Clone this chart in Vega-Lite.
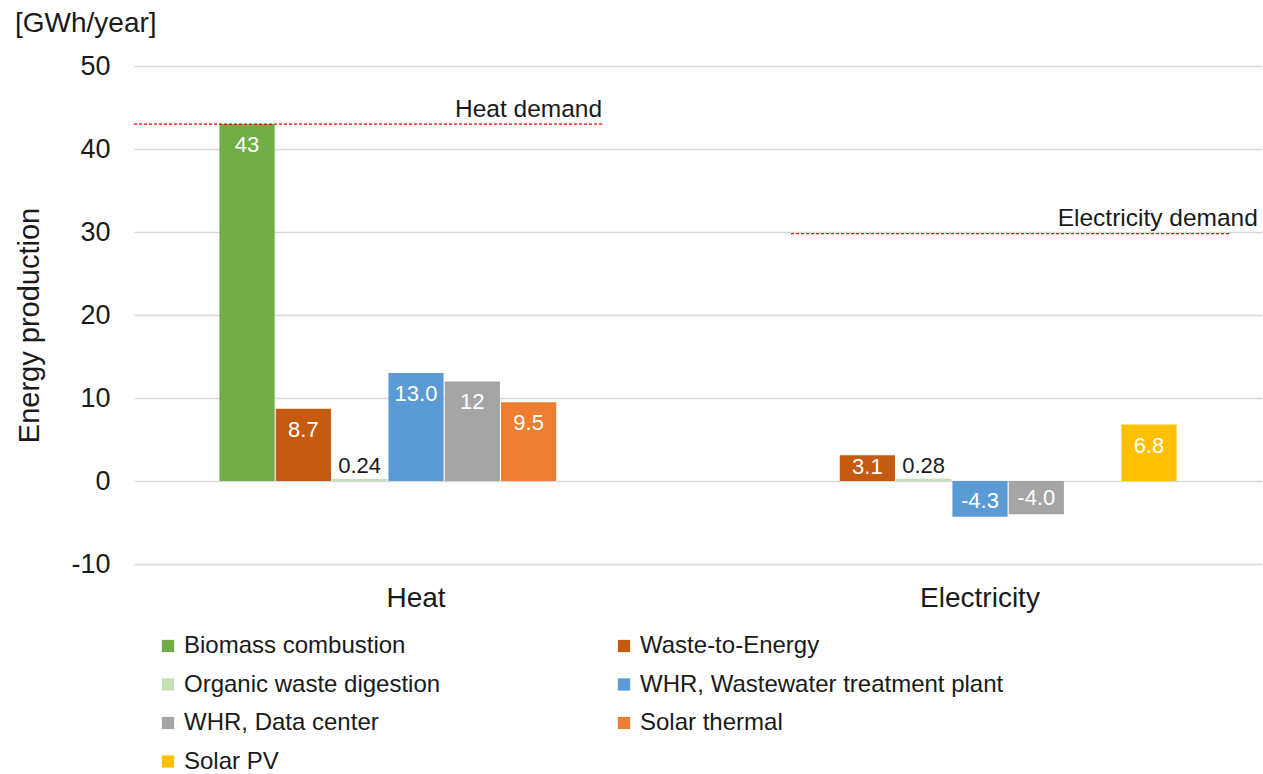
{
  "$schema": "https://vega.github.io/schema/vega-lite/v6.json",
  "width": 1128,
  "height": 498,
  "autosize": "none",
  "padding": {"left": 134, "top": 66, "right": 1, "bottom": 210},
  "background": "white",
  "config": {"font": "Liberation Sans", "view": {"stroke": null}},
  "title": {"text": "[GWh/year]", "anchor": "start", "frame": "group", "fontSize": 28, "fontWeight": "normal", "color": "#1a1a1a", "dx": -119, "offset": 14},
  "datasets": {
    "prod": [
      {"type": "Heat", "source": "Biomass combustion", "value": 43, "label": "43"},
      {"type": "Heat", "source": "Waste-to-Energy", "value": 8.7, "label": "8.7"},
      {"type": "Heat", "source": "Organic waste digestion", "value": 0.24, "label": "0.24"},
      {"type": "Heat", "source": "WHR, Wastewater treatment plant", "value": 13.0, "label": "13.0"},
      {"type": "Heat", "source": "WHR, Data center", "value": 12, "label": "12"},
      {"type": "Heat", "source": "Solar thermal", "value": 9.5, "label": "9.5"},
      {"type": "Electricity", "source": "Waste-to-Energy", "value": 3.1, "label": "3.1"},
      {"type": "Electricity", "source": "Organic waste digestion", "value": 0.28, "label": "0.28"},
      {"type": "Electricity", "source": "WHR, Wastewater treatment plant", "value": -4.3, "label": "-4.3"},
      {"type": "Electricity", "source": "WHR, Data center", "value": -4.0, "label": "-4.0"},
      {"type": "Electricity", "source": "Solar PV", "value": 6.8, "label": "6.8"}
    ],
    "demand": [
      {"name": "Heat demand", "value": 43, "x0": 0, "x1": 0.83},
      {"name": "Electricity demand", "value": 29.8, "x0": 1.165, "x1": 1.943}
    ]
  },
  "encoding": {
    "y": {
      "field": "value", "type": "quantitative",
      "scale": {"domain": [-10, 50], "nice": false, "zero": false},
      "axis": {
        "title": "Energy production", "titleFontSize": 29, "titleFontWeight": "normal", "titleColor": "#1a1a1a", "titlePadding": 26, "titleY": 259,
        "labelFontSize": 27, "labelColor": "#1a1a1a", "labelPadding": 24, "labelExpr": "toString(datum.value)",
        "values": [-10, 0, 10, 20, 30, 40, 50],
        "grid": true, "gridColor": "#d9d9d9", "gridWidth": 1.3,
        "domain": false, "ticks": false
      }
    }
  },
  "layer": [
    {
      "data": {"name": "prod"},
      "encoding": {
        "x": {
          "field": "type", "type": "nominal", "sort": ["Heat", "Electricity"],
          "scale": {"paddingInner": 0.303, "paddingOuter": 0.1515},
          "axis": {"title": null, "labelFontSize": 28, "labelColor": "#1a1a1a", "labelPadding": 20, "labelAngle": 0, "domain": false, "ticks": false, "grid": false}
        },
        "xOffset": {
          "field": "source", "type": "nominal",
          "scale": {
            "domain": ["Biomass combustion", "Waste-to-Energy", "Organic waste digestion", "WHR, Wastewater treatment plant", "WHR, Data center", "Solar thermal", "Solar PV"],
            "paddingOuter": 0, "paddingInner": 0.02
          }
        }
      },
      "layer": [
        {
          "mark": {"type": "bar"},
          "encoding": {
            "color": {
              "field": "source", "type": "nominal",
              "scale": {
                "domain": ["Biomass combustion", "Waste-to-Energy", "Organic waste digestion", "WHR, Wastewater treatment plant", "WHR, Data center", "Solar thermal", "Solar PV"],
                "range": ["#70ad47", "#c55a11", "#c5e0b4", "#5b9bd5", "#a5a5a5", "#ed7d31", "#ffc000"]
              },
              "legend": {
                "title": null, "orient": "none", "direction": "horizontal", "legendX": 22, "legendY": 568, "columns": 2, "columnPadding": 171, "rowPadding": 14.5,
                "symbolType": "square", "symbolSize": 150, "symbolStrokeWidth": 0, "labelFontSize": 24, "labelColor": "#1a1a1a", "labelOffset": 4, "labelLimit": 500
              }
            }
          }
        },
        {
          "transform": [{"filter": "datum.value >= 5"}],
          "mark": {"type": "text", "baseline": "middle", "dy": 21, "color": "white", "fontSize": 22},
          "encoding": {"text": {"field": "label"}}
        },
        {
          "transform": [{"filter": "datum.value >= 1 && datum.value < 5"}],
          "mark": {"type": "text", "baseline": "middle", "dy": 12, "color": "white", "fontSize": 22},
          "encoding": {"text": {"field": "label"}}
        },
        {
          "transform": [{"filter": "datum.value > 0 && datum.value < 1"}],
          "mark": {"type": "text", "baseline": "middle", "dy": -13, "color": "#1a1a1a", "fontSize": 22},
          "encoding": {"text": {"field": "label"}}
        },
        {
          "transform": [{"filter": "datum.value < 0"}],
          "mark": {"type": "text", "baseline": "middle", "dy": -16, "color": "white", "fontSize": 22},
          "encoding": {"text": {"field": "label"}}
        }
      ]
    },
    {
      "data": {"name": "demand"},
      "encoding": {
        "x": {"field": "x0", "type": "quantitative", "scale": {"domain": [0, 2], "nice": false, "zero": false}, "axis": null}
      },
      "layer": [
        {
          "mark": {"type": "rule", "color": "#ff0000", "strokeDash": [3, 2], "strokeWidth": 1.2},
          "encoding": {"x2": {"field": "x1"}}
        },
        {
          "transform": [{"filter": "datum.name == 'Heat demand'"}],
          "mark": {"type": "text", "align": "right", "baseline": "alphabetic", "dy": -7, "fontSize": 24.5, "color": "#1a1a1a"},
          "encoding": {"x": {"field": "x1", "type": "quantitative"}, "text": {"field": "name"}}
        },
        {
          "transform": [{"filter": "datum.name == 'Electricity demand'"}],
          "mark": {"type": "text", "align": "right", "baseline": "alphabetic", "dy": -8, "dx": 28, "fontSize": 24.5, "color": "#1a1a1a"},
          "encoding": {"x": {"field": "x1", "type": "quantitative"}, "text": {"field": "name"}}
        }
      ]
    }
  ],
  "resolve": {"scale": {"x": "independent"}}
}
